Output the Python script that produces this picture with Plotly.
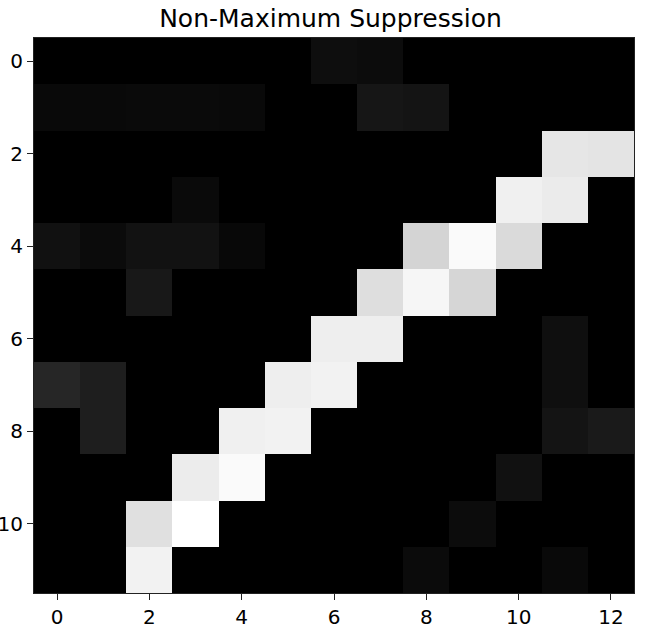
import plotly.graph_objects as go

# column and row indices
cols = list(range(13))
rows = list(range(12))

# pixel intensities (0-255) per row
row0 = [0, 0, 0, 0, 0, 0, 14, 12, 0, 0, 0, 0, 0]
row1 = [9, 9, 10, 10, 9, 0, 0, 22, 20, 0, 0, 0, 0]
row2 = [0, 0, 0, 0, 0, 0, 0, 0, 0, 0, 0, 230, 228]
row3 = [0, 0, 0, 10, 0, 0, 0, 0, 0, 0, 240, 235, 0]
row4 = [17, 11, 18, 18, 8, 0, 0, 0, 212, 250, 218, 0, 0]
row5 = [0, 0, 24, 0, 0, 0, 0, 222, 246, 214, 0, 0, 0]
row6 = [0, 0, 0, 0, 0, 0, 238, 238, 0, 0, 0, 15, 0]
row7 = [38, 30, 0, 0, 0, 238, 242, 0, 0, 0, 0, 15, 0]
row8 = [0, 30, 0, 0, 240, 242, 0, 0, 0, 0, 0, 20, 26]
row9 = [0, 0, 0, 236, 250, 0, 0, 0, 0, 0, 17, 0, 0]
row10 = [0, 0, 224, 255, 0, 0, 0, 0, 0, 12, 0, 0, 0]
row11 = [0, 0, 242, 0, 0, 0, 0, 0, 11, 0, 0, 9, 0]

z = [row0, row1, row2, row3, row4, row5, row6, row7, row8, row9, row10, row11]

fig = go.Figure(go.Heatmap(
    z=z, x=cols, y=rows,
    colorscale=[[0, "black"], [1, "white"]],
    zmin=0, zmax=255, showscale=False, hoverongaps=False,
))

axis_common = dict(
    showgrid=False, zeroline=False, showline=True, linecolor="#222222",
    linewidth=1, mirror=True, ticks="outside", ticklen=6, tickwidth=1.3,
    tickcolor="#222222", tickfont=dict(size=20, color="black"),
    automargin=False,
)

fig.update_layout(
    width=661, height=637,
    margin=dict(l=34, r=27, t=38, b=44),
    paper_bgcolor="white", plot_bgcolor="white",
    font=dict(family="DejaVu Sans", color="black"),
    title=dict(text="Non-Maximum Suppression", x=0.5, xanchor="center",
               y=1 - 18 / 637, yanchor="middle", font=dict(size=25),
               automargin=False),
    xaxis=dict(range=[-0.5, 12.5], tickvals=[0, 2, 4, 6, 8, 10, 12], **axis_common),
    yaxis=dict(range=[11.5, -0.5], tickvals=[0, 2, 4, 6, 8, 10], **axis_common),
)

fig.write_html("out.html", config={"displayModeBar": False},
               post_script="document.body.style.margin='0';")
